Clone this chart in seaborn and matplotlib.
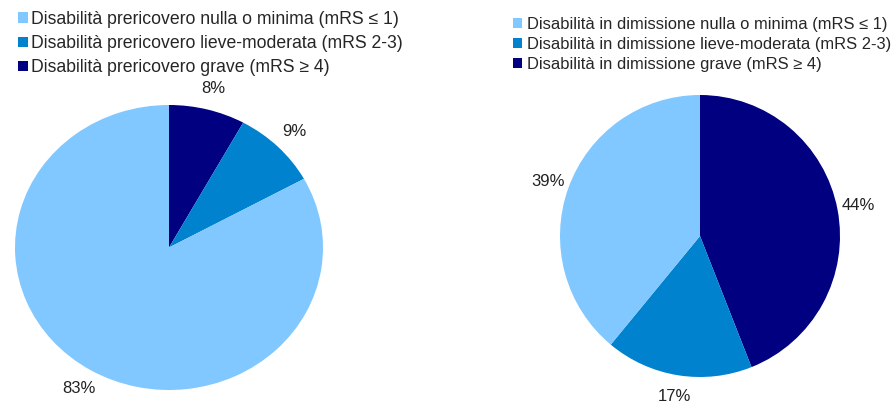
import matplotlib
matplotlib.use("Agg")
import matplotlib.pyplot as plt
import seaborn as sns

sns.set_theme(style="white")
plt.rcParams["font.family"] = ["Liberation Sans", "DejaVu Sans"]

# Wedge order: clockwise from 12 o'clock (grave, lieve-moderata, nulla/minima)
pre_values = [8, 9, 83]
post_values = [44, 17, 39]

pre_labels = [
    "Disabilità prericovero grave (mRS ≥ 4)",
    "Disabilità prericovero lieve-moderata (mRS 2-3)",
    "Disabilità prericovero nulla o minima (mRS ≤ 1)",
]
post_labels = [
    "Disabilità in dimissione grave (mRS ≥ 4)",
    "Disabilità in dimissione lieve-moderata (mRS 2-3)",
    "Disabilità in dimissione nulla o minima (mRS ≤ 1)",
]

colors = sns.color_palette(["#000080", "#0082CF", "#80C8FF"])

W, H = 892, 403
fig = plt.figure(figsize=(W / 100, H / 100), dpi=100)
fig.patch.set_facecolor("white")


def px_axes(x0, y0, x1, y1):
    return fig.add_axes([x0 / W, (H - y1) / H, (x1 - x0) / W, (y1 - y0) / H])


def draw_pie(ax, values, names, legend_xy, legend_fs, legend_sp, text_pad):
    wedges, texts = ax.pie(
        values,
        colors=colors,
        startangle=90,
        counterclock=False,
        labels=[f"{v}%" for v in values],
        labeldistance=1.15,
        wedgeprops=dict(linewidth=0),
        textprops=dict(fontsize=12, color="#222222"),
    )
    for t in texts:
        t.set_horizontalalignment("center")
    ax.set_aspect("auto")
    ax.set_xlim(-1, 1)
    ax.set_ylim(-1, 1)
    ax.axis("off")
    # legend lists categories from mild to severe
    fig.legend(
        wedges[::-1],
        names[::-1],
        loc="upper left",
        bbox_to_anchor=(legend_xy[0] / W, 1 - legend_xy[1] / H),
        frameon=False,
        fontsize=legend_fs,
        handlelength=0.55,
        handleheight=0.55,
        handletextpad=text_pad,
        labelspacing=legend_sp,
        borderpad=0,
        borderaxespad=0,
    )


ax1 = px_axes(15, 105, 323, 390)
draw_pie(ax1, pre_values, pre_labels, (18, 11), 12.7, 0.4, 0.2)

ax2 = px_axes(560, 95, 840, 377)
draw_pie(ax2, post_values, post_labels, (513, 17), 11.85, 0.3, 0.3)

fig.savefig("out.png", dpi=100, facecolor="white")
